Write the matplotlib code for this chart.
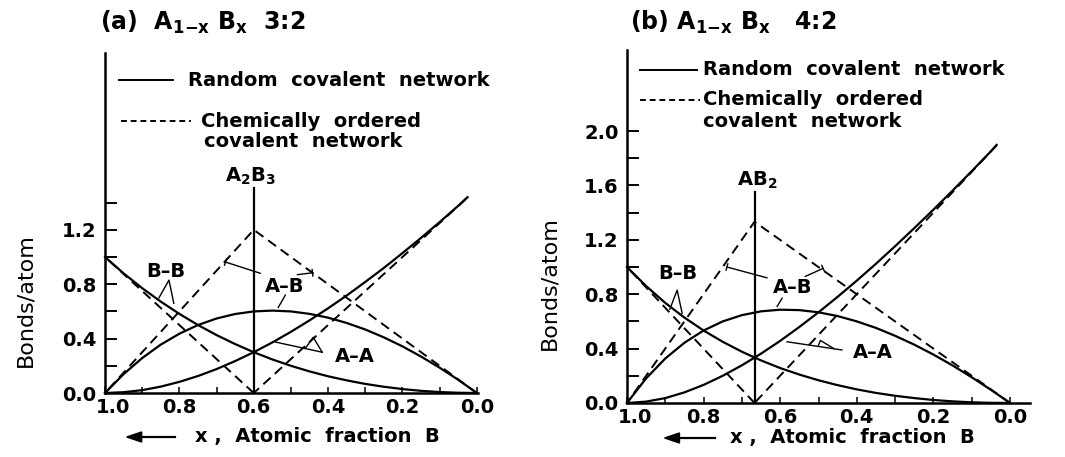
import matplotlib.pyplot as plt
from matplotlib.transforms import ScaledTranslation

plt.rcParams['font.family'] = 'DejaVu Sans'
plt.rcParams['mathtext.fontset'] = 'dejavusans'

# composition grid (atomic fraction of B)
x_grid = [0.0, 0.05, 0.1, 0.15, 0.2, 0.25, 0.3, 0.35, 0.4, 0.45, 0.5,
          0.55, 0.6, 0.65, 0.7, 0.75, 0.8, 0.85, 0.9, 0.95, 1.0]

# (a) A(1-x)B(x), valences 3:2 -- random covalent network
a_aa_x = [0.025] + x_grid[1:]
a_aa = [1.440, 1.377, 1.257, 1.141, 1.029, 0.920, 0.817, 0.717, 0.623, 0.534, 0.450,
        0.372, 0.300, 0.235, 0.176, 0.125, 0.082, 0.047, 0.021, 0.006, 0.0]
a_bb = [0.0, 0.002, 0.007, 0.016, 0.029, 0.046, 0.067, 0.093, 0.123, 0.159, 0.200,
        0.247, 0.300, 0.360, 0.426, 0.500, 0.582, 0.672, 0.771, 0.880, 1.000]
a_ab = [0.0, 0.097, 0.186, 0.268, 0.343, 0.409, 0.467, 0.515, 0.554, 0.582, 0.600,
        0.606, 0.600, 0.581, 0.548, 0.500, 0.436, 0.356, 0.257, 0.139, 0.0]
# chemically ordered network, compound at x = 0.6 (A2B3)
a_ord_ab_x, a_ord_ab = [0.0, 0.6, 1.0], [0.0, 1.2, 0.0]
a_ord_aa_x, a_ord_aa = [0.03, 0.6], [1.425, 0.0]
a_ord_bb_x, a_ord_bb = [0.6, 1.0], [0.0, 1.0]
a_comp, a_comp_top = 0.6, 1.51

# (b) A(1-x)B(x), valences 4:2 -- random covalent network
b_aa_x = [0.035] + x_grid[1:]
b_aa = [1.898, 1.851, 1.705, 1.562, 1.422, 1.286, 1.153, 1.024, 0.900, 0.781, 0.667,
        0.559, 0.457, 0.363, 0.277, 0.200, 0.133, 0.078, 0.036, 0.010, 0.0]
b_bb = [0.0, 0.001, 0.005, 0.012, 0.022, 0.036, 0.053, 0.074, 0.100, 0.131, 0.167,
        0.209, 0.257, 0.313, 0.377, 0.450, 0.533, 0.628, 0.736, 0.860, 1.000]
b_ab = [0.0, 0.097, 0.189, 0.276, 0.356, 0.429, 0.494, 0.552, 0.600, 0.639, 0.667,
        0.683, 0.686, 0.674, 0.646, 0.600, 0.533, 0.443, 0.327, 0.181, 0.0]
# chemically ordered network, compound at x = 2/3 (AB2)
b_ord_ab_x, b_ord_ab = [0.0, 0.667, 1.0], [0.0, 1.333, 0.0]
b_ord_aa_x, b_ord_aa = [0.035, 0.667], [1.895, 0.0]
b_ord_bb_x, b_ord_bb = [0.667, 1.0], [0.0, 1.0]
b_comp, b_comp_top = 0.667, 1.55

x_ticks = [1.0, 0.9, 0.8, 0.7, 0.6, 0.5, 0.4, 0.3, 0.2, 0.1, 0.0]
x_labels = ['1.0', '', '0.8', '', '0.6', '', '0.4', '', '0.2', '', '0.0']
a_y_ticks = [0.0, 0.2, 0.4, 0.6, 0.8, 1.0, 1.2, 1.4]
a_y_labels = ['0.0', '', '0.4', '', '0.8', '', '1.2', '']
b_y_ticks = [0.0, 0.2, 0.4, 0.6, 0.8, 1.0, 1.2, 1.4, 1.6, 1.8, 2.0]
b_y_labels = ['0.0', '', '0.4', '', '0.8', '', '1.2', '', '1.6', '', '2.0']

FS = 14
DASH = (5, 3)

fig = plt.figure(figsize=(10.65, 4.57), dpi=100)
ax_a = fig.add_axes([0.0986, 0.140, 0.3502, 0.744])
ax_b = fig.add_axes([0.5887, 0.1182, 0.3784, 0.7724])


def setup(ax, xmin, ymax, yt, yl):
    ax.set_xlim(1.0, xmin)
    ax.set_ylim(0, ymax)
    for s in ('top', 'right'):
        ax.spines[s].set_visible(False)
    for s in ('left', 'bottom'):
        ax.spines[s].set_linewidth(1.8)
    ax.set_xticks(x_ticks, x_labels)
    ax.set_yticks(yt, yl)
    ax.tick_params(axis='y', direction='in', length=8.5, width=1.4, pad=6, labelsize=FS)
    ax.tick_params(axis='x', direction='in', length=4.5, width=1.1, pad=3.5, labelsize=FS)
    for t in ax.get_xticklabels() + ax.get_yticklabels():
        t.set_fontweight('bold')
    # first x label sits a little right of the corner
    first = ax.get_xticklabels()[0]
    first.set_transform(first.get_transform() + ScaledTranslation(6 / 72, 0, fig.dpi_scale_trans))


def curves(ax, aa_x, aa, bb, ab, oab_x, oab, oaa_x, oaa, obb_x, obb, comp, top):
    for xs, ys in ((aa_x, aa), (x_grid, bb), (x_grid, ab)):
        ax.plot(xs, ys, color='black', lw=1.6, clip_on=False)
    for xs, ys in ((oab_x, oab), (oaa_x, oaa), (obb_x, obb)):
        ax.plot(xs, ys, color='black', lw=1.4, dashes=DASH, clip_on=False)
    ax.plot([comp, comp], [0, top], color='black', lw=1.6)


def leader(ax, pts, lw=1.0):
    ax.plot([p[0] for p in pts], [p[1] for p in pts], color='black', lw=lw)


def t_leader(ax, start, end):
    ax.annotate('', xy=end, xytext=start,
                arrowprops=dict(arrowstyle='-[, widthB=0.25, lengthB=0',
                                lw=1.0, color='black', shrinkA=0, shrinkB=0))


def legend(ax, solid, dashed, tx, y1, y2, y3):
    ax.plot(solid, [y1, y1], color='black', lw=1.4, clip_on=False)
    ax.plot(dashed, [y2, y2], color='black', lw=1.4, dashes=(3, 2), clip_on=False)
    kw = dict(fontsize=FS, fontweight='bold', va='center', ha='left')
    ax.text(tx[0], y1, 'Random  covalent  network', **kw)
    ax.text(tx[1], y2, 'Chemically  ordered', **kw)
    ax.text(tx[2], y3, 'covalent  network', **kw)


def label(ax, x, y, s):
    ax.text(x, y, s, fontsize=FS, fontweight='bold', ha='center', va='center')


# ---- panel (a)
setup(ax_a, -0.003, 2.5, a_y_ticks, a_y_labels)
curves(ax_a, a_aa_x, a_aa, a_bb, a_ab, a_ord_ab_x, a_ord_ab, a_ord_aa_x, a_ord_aa,
       a_ord_bb_x, a_ord_bb, a_comp, a_comp_top)
label(ax_a, 0.609, 1.59, r'A$_{\mathbf{2}}$B$_{\mathbf{3}}$')
legend(ax_a, [0.962, 0.818], [0.957, 0.769], [0.777, 0.743, 0.735], 2.30, 2.00, 1.85)

label(ax_a, 0.836, 0.89, 'B\u2013B')
leader(ax_a, [(0.855, 0.70), (0.828, 0.83), (0.815, 0.66)])
label(ax_a, 0.517, 0.78, 'A\u2013B')
t_leader(ax_a, (0.582, 0.88), (0.676, 0.963))
t_leader(ax_a, (0.483, 0.87), (0.442, 0.884))
leader(ax_a, [(0.515, 0.72), (0.534, 0.63)])
label(ax_a, 0.327, 0.265, 'A\u2013A')
leader(ax_a, [(0.542, 0.375), (0.416, 0.30)])
leader(ax_a, [(0.461, 0.33), (0.440, 0.41), (0.416, 0.30)])

# ---- panel (b)
setup(ax_b, -0.052, 2.596, b_y_ticks, b_y_labels)
curves(ax_b, b_aa_x, b_aa, b_bb, b_ab, b_ord_ab_x, b_ord_ab, b_ord_aa_x, b_ord_aa,
       b_ord_bb_x, b_ord_bb, b_comp, b_comp_top)
label(ax_b, 0.661, 1.64, r'AB$_{\mathbf{2}}$')
legend(ax_b, [0.966, 0.817], [0.966, 0.809], [0.802, 0.802, 0.802], 2.45, 2.23, 2.07)

label(ax_b, 0.867, 0.955, 'B\u2013B')
leader(ax_b, [(0.888, 0.69), (0.869, 0.83), (0.856, 0.66)])
label(ax_b, 0.567, 0.85, 'A\u2013B')
t_leader(ax_b, (0.634, 0.92), (0.739, 1.0))
t_leader(ax_b, (0.535, 0.93), (0.488, 0.99))
leader(ax_b, [(0.595, 0.77), (0.608, 0.71)])
label(ax_b, 0.358, 0.37, 'A\u2013A')
leader(ax_b, [(0.582, 0.45), (0.439, 0.39)])
leader(ax_b, [(0.500, 0.425), (0.495, 0.46), (0.460, 0.40)])

# ---- titles, axis labels
fig.text(0.0939, 0.952, r'(a)  A$_{\mathbf{1{-}x}}$ B$_{\mathbf{x}}$  3:2', fontsize=17,
         fontweight='bold', va='center', ha='left')
fig.text(0.5915, 0.952, r'(b) A$_{\mathbf{1{-}x}}$ B$_{\mathbf{x}}$   4:2', fontsize=17,
         fontweight='bold', va='center', ha='left')

fig.text(0.0235, 0.344, 'Bonds/atom', fontsize=16, rotation=90, ha='center', va='center')
fig.text(0.516, 0.380, 'Bonds/atom', fontsize=16, rotation=90, ha='center', va='center')

for x0, x1, tx, y in ((0.164, 0.119, 0.183, 0.0438), (0.671, 0.624, 0.685, 0.0416)):
    fig.add_artist(plt.Line2D([x1 + 0.006, x0], [y, y], color='black', lw=1.6,
                              transform=fig.transFigure))
    fig.patches.append(plt.Polygon([[x1, y], [x1 + 0.014, y + 0.011], [x1 + 0.014, y - 0.011]],
                                   closed=True, color='black', transform=fig.transFigure,
                                   figure=fig))
    fig.text(tx, y, 'x ,  Atomic  fraction  B', fontsize=FS, fontweight='bold',
             va='center', ha='left')

fig.savefig('out.png', dpi=100)
